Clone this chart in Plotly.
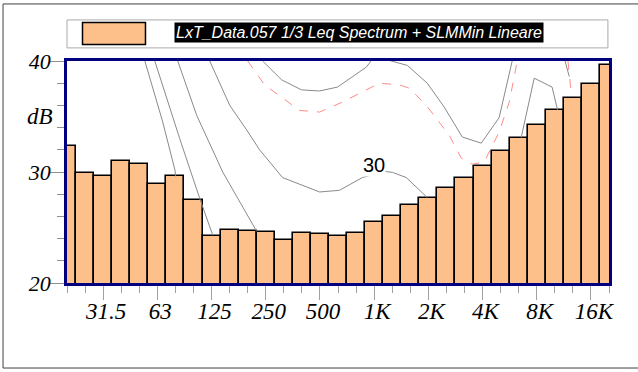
import plotly.graph_objects as go

# ---- data ----
bands = ["20", "25", "31.5", "40", "50", "63", "80", "100", "125", "160", "200", "250",
         "315", "400", "500", "630", "800", "1K", "1.25K", "1.6K", "2K", "2.5K", "3.15K",
         "4K", "5K", "6.3K", "8K", "10K", "12.5K", "16K", "20K"]
leq_db = [32.3, 29.9, 29.6, 31.0, 30.7, 28.9, 29.6, 27.5, 24.2, 24.8, 24.7, 24.6, 23.9,
          24.5, 24.4, 24.2, 24.5, 25.5, 26.0, 27.05, 27.7, 28.6, 29.5, 30.5, 31.85, 33.05,
          34.25, 35.55, 36.7, 37.9, 39.65]
tick_labels = ["31.5", "63", "125", "250", "500", "1K", "2K", "4K", "8K", "16K"]

# curves (x in band-index units, y in dB)
curve_a_x = [4.31, 5.30, 5.97, 6.02]
curve_a_y = [40.0, 34.5, 30.2, 29.6]
curve_b_x = [4.86, 6.24, 7.35, 8.07]
curve_b_y = [40.0, 33.0, 27.6, 24.3]
curve_c_x = [6.13, 7.18, 8.62, 9.56, 10.5]
curve_c_y = [40.0, 35.1, 30.0, 27.3, 24.65]
curve_30_x = [7.90, 9.01, 9.94, 10.66, 11.22, 11.93, 13.98, 15.08, 16.35, 17.57, 18.01, 18.78, 19.94]
curve_30_y = [40.0, 36.0, 33.8, 32.0, 30.9, 29.5, 28.2, 28.35, 29.5, 30.05, 29.97, 29.5, 27.7]
curve_up_x = [10.83, 11.88, 12.98, 13.98, 14.97, 16.57, 17.2, 17.85, 18.84, 19.94, 20.88,
              21.88, 22.93, 23.92, 24.64]
curve_up_y = [40.0, 38.3, 37.4, 37.3, 37.65, 39.45, 40.8, 40.05, 39.6, 38.0, 35.85, 33.15,
              32.6, 34.9, 40.0]
curve_r_x = [25.14, 25.86, 26.85, 27.15]
curve_r_y = [33.1, 38.45, 37.65, 35.6]
curve_r2_x = [27.57, 27.80]
curve_r2_y = [40.0, 38.6]
slm_x = [10.0, 10.94, 12.87, 13.98, 15.25, 17.29, 18.40, 18.95, 19.89, 21.16, 21.82,
         22.43, 23.09, 23.92, 24.48, 24.92]
slm_y = [40.0, 37.85, 35.55, 35.4, 36.3, 38.0, 37.85, 37.55, 36.0, 33.3, 31.25, 30.7,
         30.9, 33.6, 36.3, 40.0]
slm2_x = [27.73, 27.92]
slm2_y = [40.0, 36.9]

legend_text = "LxT_Data.057 1/3 Leq Spectrum + SLMMin Lineare"

BAR_COLOR = "#FDC08A"
NAVY = "#000080"

fig = go.Figure()

x_idx = list(range(len(bands)))
fig.add_trace(go.Bar(x=x_idx, y=leq_db, width=1.0, marker=dict(color=BAR_COLOR,
                     line=dict(color="black", width=1.6)), showlegend=False))

for cx, cy in [(curve_a_x, curve_a_y), (curve_b_x, curve_b_y), (curve_c_x, curve_c_y),
               (curve_30_x, curve_30_y), (curve_up_x, curve_up_y), (curve_r_x, curve_r_y),
               (curve_r2_x, curve_r2_y)]:
    fig.add_trace(go.Scatter(x=cx, y=cy, mode="lines", line=dict(color="#8a8a8a", width=1),
                             showlegend=False, hoverinfo="skip"))
for cx, cy in [(slm_x, slm_y), (slm2_x, slm2_y)]:
    fig.add_trace(go.Scatter(x=cx, y=cy, mode="lines",
                             line=dict(color="#FF8A8A", width=1, dash="dash"),
                             showlegend=False, hoverinfo="skip"))

serif_it = dict(family="Liberation Serif, Times New Roman, serif", style="italic", color="black")

fig.update_layout(
    width=638, height=372,
    margin=dict(l=67, r=29, t=61, b=89),
    paper_bgcolor="white", plot_bgcolor="white",
    bargap=0,
    xaxis=dict(range=[0, 30], showgrid=False, zeroline=False,
               showline=True, linecolor=NAVY, linewidth=2.5, mirror=True,
               tickmode="array", tickvals=[bands.index(t) for t in tick_labels],
               ticktext=tick_labels, ticks="outside", ticklen=14, tickwidth=1,
               tickcolor="#a0a0a0", tickfont=dict(size=23, **serif_it),
               ticklabelstandoff=-8, ticklabelshift=3,
               minor=dict(dtick=1, tick0=0, ticks="outside", ticklen=7,
                          tickcolor="#a0a0a0", tickwidth=1)),
    yaxis=dict(range=[20, 40], showgrid=False, zeroline=False,
               showline=True, linecolor=NAVY, linewidth=2.5, mirror=True,
               tickmode="array", tickvals=[20, 30, 40], ticks="outside", ticklen=14,
               tickwidth=1, tickcolor="#909090", tickfont=dict(size=22, **serif_it),
               ticklabelstandoff=-5,
               minor=dict(dtick=2, tick0=20, ticks="outside", ticklen=7,
                          tickcolor="#909090", tickwidth=1)),
)

# outer frame
fig.add_shape(type="rect", xref="paper", yref="paper", x0=-0.118, x1=1.2, y0=-0.383, y1=1.257,
              line=dict(color="#404040", width=1), fillcolor="rgba(0,0,0,0)", layer="below")
# legend box
fig.add_shape(type="rect", xref="paper", yref="paper", x0=0.0, x1=0.998, y0=1.059, y1=1.185,
              line=dict(color="#aaaaaa", width=1), fillcolor="white")
fig.add_shape(type="rect", xref="paper", yref="paper", x0=0.0286, x1=0.1448, y0=1.0743, y1=1.1734,
              line=dict(color="black", width=1.5), fillcolor=BAR_COLOR)
fig.add_annotation(xref="paper", yref="paper", x=0.197, y=1.127, xanchor="left", yanchor="middle",
                   text=legend_text, showarrow=False, bgcolor="black", borderpad=1,
                   font=dict(family="Liberation Sans Narrow, Arial Narrow, Liberation Sans",
                             size=16, color="white", style="italic"))
# dB label
fig.add_annotation(xref="paper", yref="paper", x=-0.05, y=0.748, xanchor="center",
                   yanchor="middle", text="dB", showarrow=False,
                   font=dict(size=23, **serif_it))
# contour label
fig.add_annotation(x=17.0, y=30.6, text="30", showarrow=False, bgcolor="white", borderpad=0,
                   font=dict(family="Liberation Sans, Arial", size=20, color="black"))

fig.write_html("out.html", config={"displayModeBar": False},
               post_script="document.body.style.margin='0';document.body.style.overflow='hidden';")
